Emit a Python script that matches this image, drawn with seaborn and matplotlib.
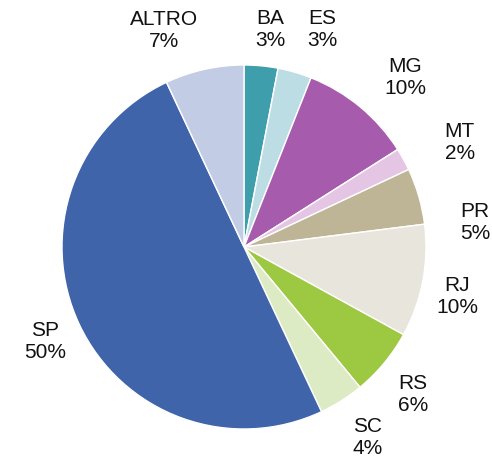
import matplotlib
matplotlib.use("Agg")
import matplotlib.pyplot as plt
import numpy as np
import seaborn as sns

# Quote per stato
stati = ['BA', 'ES', 'MG', 'MT', 'PR', 'RJ', 'RS', 'SC', 'SP', 'ALTRO']
quote = [3, 3, 10, 2, 5, 10, 6, 4, 50, 7]
colori = ['#3e9eab', '#bcdde3', '#a65bad', '#e4c6e4', '#bdb596',
          '#e8e6dc', '#9dc842', '#dcebc3', '#3f64a9', '#c3cce5']

# spostamento etichette (pixel) rispetto alla posizione radiale
spost = [(5, 3), (16, -5), (20, 1), (21, 1), (18, 36),
         (-5, 7), (-2, 5), (5, 2), (2, -1), (-32, -1)]

sns.set_theme(style="white")
plt.rcParams['font.family'] = ['Liberation Sans', 'DejaVu Sans']

fig = plt.figure(figsize=(4.92, 4.60), dpi=100)
r_px = 182
cx, cy = 244, 460 - 248
ax = fig.add_axes([(cx - r_px) / 492, (cy - r_px) / 460, 2 * r_px / 492, 2 * r_px / 460])

wedges, _ = ax.pie(quote, colors=colori, startangle=90, counterclock=False, radius=1,
                   wedgeprops=dict(edgecolor='white', linewidth=1))

dist = 1.22
for w, s, q, (ox, oy) in zip(wedges, stati, quote, spost):
    ang = np.deg2rad((w.theta1 + w.theta2) / 2)
    x = dist * np.cos(ang) + ox / r_px
    y = dist * np.sin(ang) - oy / r_px
    ax.text(x, y, f'{s}\n{q}%', ha='center', va='center', fontsize=15,
            color='#111111', linespacing=1.2, clip_on=False)

ax.set_xlim(-1, 1)
ax.set_ylim(-1, 1)
ax.set_aspect('equal')
ax.axis('off')

fig.savefig('out.png', dpi=100)
